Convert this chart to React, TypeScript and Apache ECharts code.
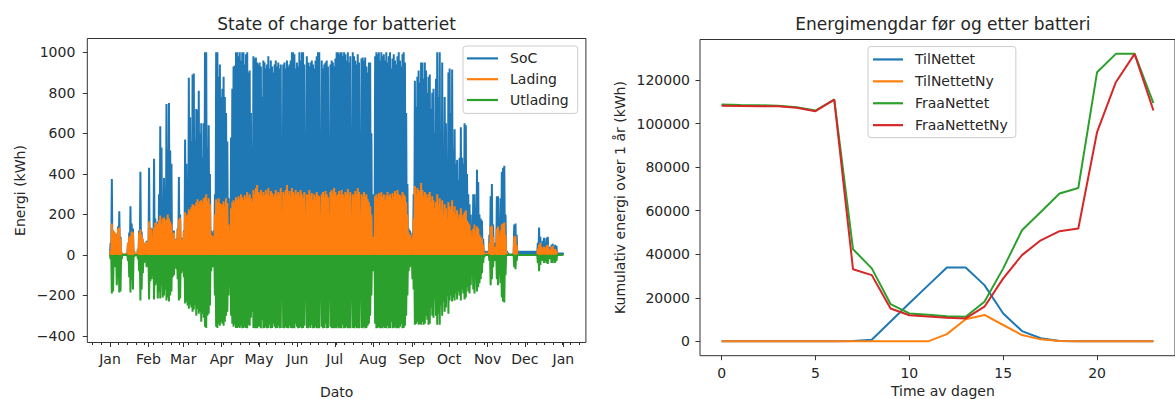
import { useEffect, useRef } from 'react';
import * as echarts from 'echarts';

const FONT = "'DejaVu Sans', 'Liberation Sans', sans-serif";
const INK = '#262626';
const FRAME = '#333333';
const BLUE = '#1f77b4';
const ORANGE = '#ff7f0e';
const GREEN = '#2ca02c';
const RED = '#d62728';

// ---- Left panel: daily peaks of the battery simulation (kWh), one value per day of the year ----
const monthStarts = [0, 31, 59, 90, 120, 151, 181, 212, 243, 273, 304, 334, 365];
const monthNames = ['Jan', 'Feb', 'Mar', 'Apr', 'May', 'Jun', 'Jul', 'Aug', 'Sep', 'Oct', 'Nov', 'Dec', 'Jan'];
const energyTicks = [-400, -200, 0, 200, 400, 600, 800, 1000];

const socPeak = [
  // Jan
  60, 375, 120, 110, 105, 100, 140, 215, 90, 10, 5, 0, 5, 10, 60, 110, 240, 155, 130, 20, 5, 0, 30, 120, 410, 115, 75, 60, 40, 70, 50,
  // Feb
  430, 135, 130, 60, 475, 180, 150, 165, 300, 635, 530, 200, 380, 240, 745, 520, 750, 515, 450, 115, 120, 75, 80, 130, 385, 200, 85, 80,
  // Mar
  120, 570, 450, 300, 875, 680, 560, 890, 895, 570, 720, 715, 810, 600, 650, 480, 650, 1000, 1000, 530, 640, 400, 120, 110, 120, 300, 1000, 1000, 880, 940, 780,
  // Apr
  820, 880, 780, 700, 560, 280, 90, 580, 820, 930, 935, 1000, 1000, 980, 1000, 960, 1000, 1000, 940, 990, 1000, 900, 910, 700, 530, 980, 970, 975, 950, 940,
  // May
  950, 930, 780, 960, 950, 920, 940, 980, 920, 960, 930, 900, 940, 960, 930, 950, 920, 940, 250, 940, 950, 920, 960, 930, 940, 960, 1000, 1000, 990, 920, 950,
  // Jun
  930, 1000, 960, 1000, 1000, 940, 300, 980, 950, 930, 950, 960, 940, 920, 960, 980, 1000, 1000, 200, 960, 920, 940, 950, 960, 930, 300, 940, 960, 950, 930,
  // Jul
  970, 1000, 1000, 990, 1000, 1000, 980, 1000, 990, 960, 1000, 950, 980, 200, 1000, 980, 960, 940, 990, 950, 250, 970, 975, 960, 975, 930, 900, 950, 950, 600, 300,
  // Aug
  20, 980, 1000, 990, 1000, 960, 1000, 980, 990, 960, 1000, 950, 980, 1000, 920, 970, 990, 960, 940, 980, 1000, 960, 930, 990, 1000, 950, 700, 350, 130, 120, 90,
  // Sep
  110, 300, 860, 730, 880, 910, 850, 950, 950, 870, 950, 910, 800, 880, 890, 720, 800, 820, 600, 870, 1000, 780, 1000, 600, 950, 500, 780, 650, 280, 900,
  // Oct
  920, 700, 915, 520, 620, 450, 470, 370, 480, 630, 480, 450, 650, 640, 400, 300, 250, 200, 120, 300, 300, 230, 420, 360, 200, 180, 170, 80, 20, 20, 15,
  // Nov
  20, 100, 290, 350, 150, 60, 50, 290, 290, 150, 280, 410, 430, 440, 200, 20, 10, 5, 5, 5, 5, 150, 155, 100, 20, 20, 20, 20, 20, 20,
  // Dec
  20, 20, 20, 20, 20, 20, 20, 20, 20, 20, 60, 135, 90, 50, 70, 85, 60, 85, 90, 40, 30, 50, 55, 40, 50, 45, 10, 10, 10, 10, 10,
];

const ladingPeak = [
  // Jan
  20, 155, 120, 115, 105, 95, 130, 135, 80, 10, 5, 5, 5, 5, 60, 90, 95, 115, 110, 15, 5, 0, 30, 110, 125, 100, 80, 60, 40, 65, 50,
  // Feb
  165, 130, 125, 60, 135, 160, 145, 155, 170, 195, 150, 180, 185, 170, 175, 200, 180, 165, 150, 95, 110, 70, 75, 125, 175, 185, 80, 75,
  // Mar
  115, 210, 190, 200, 225, 215, 235, 250, 245, 240, 260, 275, 250, 265, 270, 255, 280, 285, 300, 265, 280, 250, 100, 95, 80, 200, 275, 260, 280, 255, 250,
  // Apr
  250, 265, 240, 280, 255, 150, 80, 230, 260, 270, 255, 285, 270, 290, 275, 300, 285, 270, 295, 280, 310, 290, 300, 280, 260, 320, 300, 330, 345, 310,
  // May
  300, 320, 290, 310, 295, 320, 300, 330, 290, 315, 305, 285, 300, 320, 290, 310, 300, 330, 150, 310, 295, 320, 345, 300, 315, 290, 330, 310, 295, 320, 300,
  // Jun
  310, 290, 320, 300, 280, 310, 140, 300, 295, 320, 290, 305, 270, 300, 285, 310, 295, 290, 120, 300, 310, 290, 315, 300, 285, 150, 310, 320, 300, 330,
  // Jul
  310, 290, 300, 315, 295, 320, 300, 285, 310, 300, 325, 295, 310, 120, 300, 290, 315, 300, 330, 310, 130, 300, 285, 310, 290, 300, 275, 260, 240, 200, 90,
  // Aug
  10, 290, 300, 280, 305, 290, 310, 285, 300, 270, 295, 310, 290, 300, 280, 305, 290, 315, 300, 320, 300, 295, 280, 310, 300, 290, 260, 200, 110, 100, 80,
  // Sep
  90, 180, 340, 300, 330, 320, 310, 355, 320, 290, 310, 300, 280, 300, 310, 260, 290, 270, 230, 260, 300, 250, 280, 220, 270, 200, 250, 230, 180, 260,
  // Oct
  240, 220, 270, 210, 240, 200, 220, 180, 200, 230, 180, 200, 210, 220, 170, 160, 150, 120, 90, 130, 150, 110, 140, 130, 100, 90, 80, 50, 10, 10, 5,
  // Nov
  10, 60, 140, 145, 90, 40, 30, 130, 140, 90, 120, 150, 155, 160, 100, 10, 0, 0, 0, 0, 0, 90, 95, 50, 0, 0, 0, 0, 0, 0,
  // Dec
  0, 0, 0, 0, 0, 0, 0, 0, 0, 0, 30, 50, 60, 40, 30, 40, 30, 45, 50, 30, 20, 40, 45, 20, 30, 20, 0, 0, 0, 0, 0,
];

const utladingPeak = [
  // Jan
  -20, -190, -180, -60, -50, -150, -100, -185, -180, -20, 0, 0, 0, 0, -30, -110, -185, -120, -170, -10, 0, 0, -20, -80, -225, -170, -90, -40, -30, -60, -50,
  // Feb
  -220, -130, -120, -60, -220, -150, -140, -215, -180, -215, -150, -210, -200, -170, -225, -210, -230, -200, -180, -110, -100, -60, -70, -120, -225, -215, -90, -80,
  // Mar
  -110, -240, -230, -250, -265, -245, -260, -280, -270, -250, -300, -265, -290, -280, -330, -290, -310, -355, -360, -300, -290, -250, -80, -60, -50, -200, -355, -360, -340, -350, -330,
  // Apr
  -340, -350, -330, -300, -280, -200, -60, -300, -340, -355, -345, -360, -360, -355, -360, -350, -362, -360, -355, -360, -362, -345, -350, -310, -280, -360, -362, -360, -362, -355,
  // May
  -355, -362, -320, -362, -360, -355, -362, -360, -345, -362, -360, -340, -355, -362, -360, -350, -362, -360, -150, -360, -362, -355, -360, -362, -350, -360, -362, -360, -362, -340, -355,
  // Jun
  -362, -360, -355, -362, -360, -350, -150, -360, -362, -355, -360, -345, -362, -360, -355, -362, -360, -362, -120, -355, -362, -360, -340, -362, -360, -140, -355, -362, -360, -362,
  // Jul
  -360, -362, -355, -362, -360, -362, -345, -362, -360, -355, -362, -360, -362, -150, -360, -362, -355, -362, -360, -362, -130, -360, -362, -355, -362, -360, -350, -340, -300, -200, -80,
  // Aug
  -10, -340, -362, -360, -355, -362, -360, -362, -355, -360, -362, -350, -362, -360, -330, -362, -360, -355, -362, -360, -362, -355, -340, -362, -360, -350, -300, -200, -80, -60, -50,
  // Sep
  -120, -170, -345, -340, -330, -345, -340, -345, -330, -345, -340, -300, -320, -345, -340, -260, -300, -310, -220, -300, -345, -290, -345, -250, -300, -230, -280, -260, -200, -290,
  // Oct
  -225, -200, -230, -210, -225, -190, -220, -180, -200, -225, -170, -190, -220, -210, -160, -180, -190, -150, -80, -170, -190, -120, -180, -160, -140, -120, -90, -40, -10, 0, 0,
  // Nov
  0, -30, -150, -120, -60, -30, -20, -120, -150, -60, -140, -210, -230, -235, -100, 0, 0, 0, 0, 0, 0, -60, -70, -30, 0, 0, 0, 0, 0, 0,
  // Dec
  0, 0, 0, 0, 0, 0, 0, 0, 0, 0, -40, -80, -50, -20, -30, -40, -30, -40, -45, -20, -15, -40, -40, -20, -40, -30, 0, 0, 0, 0, 0,
];

// ---- Right panel: energy per hour of day, summed over one year (kWh) ----
const hours = [0, 1, 2, 3, 4, 5, 6, 7, 8, 9, 10, 11, 12, 13, 14, 15, 16, 17, 18, 19, 20, 21, 22, 23];
const tilNettet = [0, 0, 0, 0, 0, 0, 0, 150, 700, 9100, 17500, 25700, 33900, 33900, 25800, 12800, 4700, 1400, 200, 0, 0, 0, 0, 0];
const tilNettetNy = [0, 0, 0, 0, 0, 0, 0, 0, 0, 0, 0, 0, 3300, 10100, 12100, 7500, 2900, 900, 100, 0, 0, 0, 0, 0];
const fraaNettet = [108800, 108500, 108400, 108200, 107500, 106000, 111000, 42300, 33500, 17100, 12800, 12200, 11500, 11300, 18200, 33500, 51000, 59400, 67900, 70400, 123600, 132000, 132000, 109400];
const fraaNettetNy = [108200, 108100, 108000, 107900, 107300, 105700, 111000, 33100, 30400, 15100, 12000, 11400, 10800, 10500, 15900, 28900, 39600, 46400, 50600, 51800, 96100, 119000, 132000, 106000];
const hourTicks = [0, 5, 10, 15, 20];
const cumulativeTicks = [0, 20000, 40000, 60000, 80000, 100000, 120000];

// Each day the battery flow starts from zero at midnight and reaches its peak around midday.
const dailyCycle = (peaks: number[]) => {
  const pts: [number, number][] = [];
  peaks.forEach((p, d) => {
    pts.push([d, 0], [d + 0.5, p]);
  });
  pts.push([peaks.length, 0]);
  return pts;
};

const weekTicks: number[] = [];
for (let d = -14; d <= 380; d += 7) weekTicks.push(d);

const minus = (v: number) => String(v).replace('-', '\u2212');

const labelStyle = { fontFamily: FONT, fontSize: 14, color: INK };
const hiddenLine = { show: false, onZero: false };

function buildOption(): any {
  const lineSeries = (name: string, color: string, data: any, xi: number, yi: number, width: number) => ({
    type: 'line',
    name,
    xAxisIndex: xi,
    yAxisIndex: yi,
    data,
    showSymbol: false,
    symbol: 'none',
    silent: true,
    color,
    lineStyle: { color, width },
    emphasis: { disabled: true },
  });

  return {
    animation: false,
    backgroundColor: '#ffffff',
    textStyle: { fontFamily: FONT },
    grid: [
      { left: 87.3, top: 38.5, width: 498.6, height: 304, show: true, borderColor: FRAME, borderWidth: 1, backgroundColor: 'transparent' },
      { left: 700, top: 39.5, width: 485.8, height: 316.2, show: true, borderColor: FRAME, borderWidth: 1, backgroundColor: 'transparent' },
    ],
    xAxis: [
      {
        type: 'value', gridIndex: 0, min: -18.25, max: 383.2, position: 'bottom',
        axisLine: hiddenLine, splitLine: { show: false },
        axisTick: { show: true, length: 4.5, lineStyle: { color: FRAME }, customValues: monthStarts },
        axisLabel: {
          ...labelStyle, margin: 9, customValues: monthStarts,
          formatter: (v: number) => monthNames[monthStarts.indexOf(Math.round(v))] ?? '',
        },
      },
      {
        type: 'value', gridIndex: 0, min: -18.25, max: 383.2, position: 'bottom',
        axisLine: hiddenLine, splitLine: { show: false },
        axisTick: { show: true, length: 2.5, lineStyle: { color: FRAME }, customValues: weekTicks },
        axisLabel: { show: false },
      },
      {
        type: 'value', gridIndex: 1, min: -1.15, max: 24.15, position: 'bottom',
        axisLine: hiddenLine, splitLine: { show: false },
        axisTick: { show: true, length: 4.5, lineStyle: { color: FRAME }, customValues: hourTicks },
        axisLabel: { ...labelStyle, margin: 10, customValues: hourTicks, formatter: (v: number) => String(v) },
      },
    ],
    yAxis: [
      {
        type: 'value', gridIndex: 0, min: -432.2, max: 1068.2, position: 'left',
        axisLine: hiddenLine, splitLine: { show: false },
        axisTick: { show: true, length: 4.5, lineStyle: { color: FRAME }, customValues: energyTicks },
        axisLabel: { ...labelStyle, margin: 12, customValues: energyTicks, formatter: (v: number) => minus(v) },
      },
      {
        type: 'value', gridIndex: 1, min: -6600, max: 138600, position: 'left',
        axisLine: hiddenLine, splitLine: { show: false },
        axisTick: { show: true, length: 4.5, lineStyle: { color: FRAME }, customValues: cumulativeTicks },
        axisLabel: { ...labelStyle, margin: 10, customValues: cumulativeTicks, formatter: (v: number) => String(v) },
      },
    ],
    legend: [
      {
        data: ['SoC', 'Lading', 'Utlading'],
        orient: 'vertical', left: 463, top: 46,
        icon: 'rect', itemWidth: 31, itemHeight: 2.2, itemGap: 0,
        padding: [2, 9, 3, 4],
        borderColor: '#cccccc', borderWidth: 1, borderRadius: 3,
        backgroundColor: 'rgba(255,255,255,0.8)',
        selectedMode: false,
        textStyle: { ...labelStyle, lineHeight: 20.8, padding: [0, 0, 0, 7] },
      },
      {
        data: ['TilNettet', 'TilNettetNy', 'FraaNettet', 'FraaNettetNy'],
        orient: 'vertical', left: 868, top: 46.5,
        icon: 'rect', itemWidth: 30, itemHeight: 2.2, itemGap: 0,
        padding: [2, 8, 1.5, 5],
        borderColor: '#cccccc', borderWidth: 1, borderRadius: 3,
        backgroundColor: 'rgba(255,255,255,0.8)',
        selectedMode: false,
        textStyle: { ...labelStyle, lineHeight: 21.9, padding: [0, 0, 0, 7] },
      },
    ],
    series: [
      lineSeries('SoC', BLUE, dailyCycle(socPeak), 0, 0, 2),
      lineSeries('Lading', ORANGE, dailyCycle(ladingPeak), 0, 0, 2),
      lineSeries('Utlading', GREEN, dailyCycle(utladingPeak), 0, 0, 2),
      lineSeries('TilNettet', BLUE, hours.map((h, i) => [h, tilNettet[i]]), 2, 1, 2),
      lineSeries('TilNettetNy', ORANGE, hours.map((h, i) => [h, tilNettetNy[i]]), 2, 1, 2),
      lineSeries('FraaNettet', GREEN, hours.map((h, i) => [h, fraaNettet[i]]), 2, 1, 2),
      lineSeries('FraaNettetNy', RED, hours.map((h, i) => [h, fraaNettetNy[i]]), 2, 1, 2),
    ],
    graphic: [
      { type: 'text', x: 336.6, y: 24, style: { text: 'State of charge for batteriet', fontFamily: FONT, fontSize: 17, fill: INK, align: 'center', verticalAlign: 'middle' } },
      { type: 'text', x: 942.9, y: 24, style: { text: 'Energimengdar før og etter batteri', fontFamily: FONT, fontSize: 17, fill: INK, align: 'center', verticalAlign: 'middle' } },
      { type: 'text', x: 20, y: 190.5, rotation: Math.PI / 2, style: { text: 'Energi (kWh)', fontFamily: FONT, fontSize: 14, fill: INK, align: 'center', verticalAlign: 'middle' } },
      { type: 'text', x: 620, y: 197.5, rotation: Math.PI / 2, style: { text: 'Kumulativ energi over 1 år (kWh)', fontFamily: FONT, fontSize: 14, fill: INK, align: 'center', verticalAlign: 'middle' } },
      { type: 'text', x: 336.6, y: 392, style: { text: 'Dato', fontFamily: FONT, fontSize: 14, fill: INK, align: 'center', verticalAlign: 'middle' } },
      { type: 'text', x: 942.9, y: 391, style: { text: 'Time av dagen', fontFamily: FONT, fontSize: 14, fill: INK, align: 'center', verticalAlign: 'middle' } },
    ],
  };
}

export default function App() {
  const ref = useRef<HTMLDivElement>(null);
  useEffect(() => {
    if (!ref.current) return;
    const chart = echarts.init(ref.current, null, { renderer: 'svg' });
    chart.setOption(buildOption());
    return () => chart.dispose();
  }, []);
  return (
    <div
      ref={ref}
      style={{ position: 'fixed', left: 0, top: 0, width: 1175, height: 399, background: '#ffffff' }}
    />
  );
}
